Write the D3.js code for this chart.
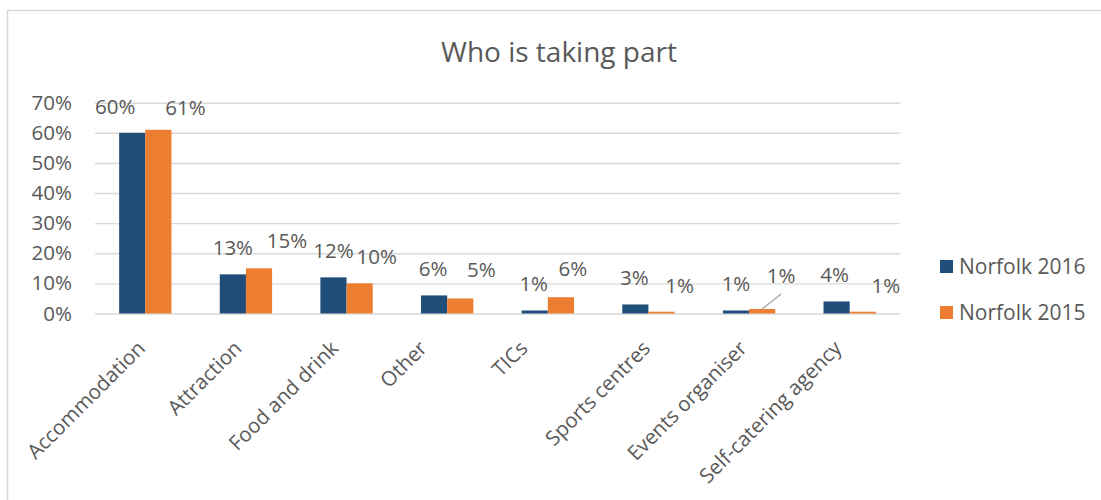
<!DOCTYPE html>
<html>
<head>
<meta charset="utf-8">
<script src="https://cdn.jsdelivr.net/npm/d3@7"></script>
<style>
  html, body { margin: 0; padding: 0; background: #fff; }
  svg { display: block; font-family: "Open Sans", "Noto Sans", sans-serif; }
</style>
</head>
<body>
<svg id="chart" width="1101" height="500"></svg>
<script>
// ---- data ----
const title = "Who is taking part";
const categories = ["Accommodation", "Attraction", "Food and drink", "Other", "TICs",
                    "Sports centres", "Events organiser", "Self-catering agency"];
const seriesNames = ["Norfolk 2016", "Norfolk 2015"];
const values2016 = [0.60, 0.13, 0.12, 0.06, 0.01, 0.03, 0.01, 0.04];
const values2015 = [0.61, 0.15, 0.10, 0.05, 0.054, 0.006, 0.015, 0.006];
const labels2016 = ["60%", "13%", "12%", "6%", "1%", "3%", "1%", "4%"];
const labels2015 = ["61%", "15%", "10%", "5%", "6%", "1%", "1%", "1%"];
const yTicks = [0, 0.1, 0.2, 0.3, 0.4, 0.5, 0.6, 0.7];

// ---- layout / style (not data) ----
const colors = ["#1F4E79", "#ED7D31"];
const textColor = "#595959";
const gridColor = "#D9D9D9";
const margin = { left: 95, top: 102.7, plotW: 805, plotH: 210.8 };
// manual label nudges as placed in the original
const nudgeX = [[-17, 0, 0, -1, -1, -1, 0, -2], [27, 28, 17, 21, 12, 18, 19, 23]];
const nudgeY = [[0, 0, 0, 0, 0, 0, 0, 0], [4, -1, 0, -2, -2, 0, -7, 0]];
const catNudgeX = [-4, -8, -12, -24, -24, -2, -6, -12];

const svg = d3.select("#chart");
const series = [
  { name: seriesNames[0], values: values2016, labels: labels2016 },
  { name: seriesNames[1], values: values2015, labels: labels2015 }
];

// chart border
svg.append("rect")
  .attr("x", 7.5).attr("y", 10.5).attr("width", 1300).attr("height", 700)
  .attr("fill", "none").attr("stroke", gridColor).attr("stroke-width", 1.5);

// title
svg.append("text")
  .attr("x", 559).attr("y", 62)
  .attr("text-anchor", "middle")
  .attr("fill", textColor)
  .attr("font-size", 28)
  .text(title);

const g = svg.append("g").attr("transform", `translate(${margin.left},${margin.top})`);

const x0 = d3.scaleBand().domain(categories).range([0, margin.plotW])
  .paddingInner(0.48).paddingOuter(0.24);
const x1 = d3.scaleBand().domain([0, 1]).range([0, x0.bandwidth()]);
const y = d3.scaleLinear().domain([0, 0.7]).range([margin.plotH, 0]);

// y axis with gridlines
const yAxis = g.append("g")
  .call(d3.axisLeft(y).tickValues(yTicks).tickFormat(d3.format(".0%"))
    .tickSize(-margin.plotW).tickPadding(23));
yAxis.select(".domain").remove();
yAxis.selectAll(".tick line").attr("stroke", gridColor).attr("stroke-width", 1.4);
yAxis.selectAll(".tick text").attr("fill", textColor).attr("font-size", 20.5)
  .attr("font-family", "\"Open Sans\", sans-serif");

// bars
series.forEach((s, si) => {
  g.append("g").selectAll("rect")
    .data(categories.map((c, i) => ({ c, v: s.values[i] })))
    .join("rect")
    .attr("x", d => x0(d.c) + x1(si))
    .attr("y", d => y(d.v))
    .attr("width", x1.bandwidth())
    .attr("height", d => y(0) - y(d.v))
    .attr("fill", colors[si]);
});

// leader line for Events organiser 2015 label
{
  const i = categories.indexOf("Events organiser");
  const bx = x0(categories[i]) + x1(1) + x1.bandwidth() / 2;
  const by = y(values2015[i]);
  g.append("line")
    .attr("x1", bx).attr("y1", by)
    .attr("x2", bx + nudgeX[1][i]).attr("y2", by - 15)
    .attr("stroke", "#A6A6A6").attr("stroke-width", 1.3);
}

// data labels
series.forEach((s, si) => {
  g.append("g").selectAll("text")
    .data(categories.map((c, i) => ({ c, i, v: s.values[i], l: s.labels[i] })))
    .join("text")
    .attr("x", d => x0(d.c) + x1(si) + x1.bandwidth() / 2 + nudgeX[si][d.i])
    .attr("y", d => y(d.v) - 19 + nudgeY[si][d.i])
    .attr("text-anchor", "middle")
    .attr("fill", textColor)
    .attr("font-size", 20.5)
    .text(d => d.l);
});

// category labels rotated -45
g.append("g").selectAll("text")
  .data(categories)
  .join("text")
  .attr("transform", (d, i) => `translate(${x0(d) + x0.bandwidth() / 2 + catNudgeX[i]},${margin.plotH + 31}) rotate(-45)`)
  .attr("text-anchor", "end")
  .attr("dy", "0.35em")
  .attr("fill", textColor)
  .attr("font-size", 20.5)
  .text(d => d);

// legend
const legend = svg.append("g");
seriesNames.forEach((n, si) => {
  const ly = 260 + si * 46;
  legend.append("rect").attr("x", 940).attr("y", ly).attr("width", 13).attr("height", 13)
    .attr("fill", colors[si]);
  legend.append("text").attr("x", 959).attr("y", ly + 13.5)
    .attr("fill", textColor).attr("font-size", 21).text(n);
});
</script>
</body>
</html>
